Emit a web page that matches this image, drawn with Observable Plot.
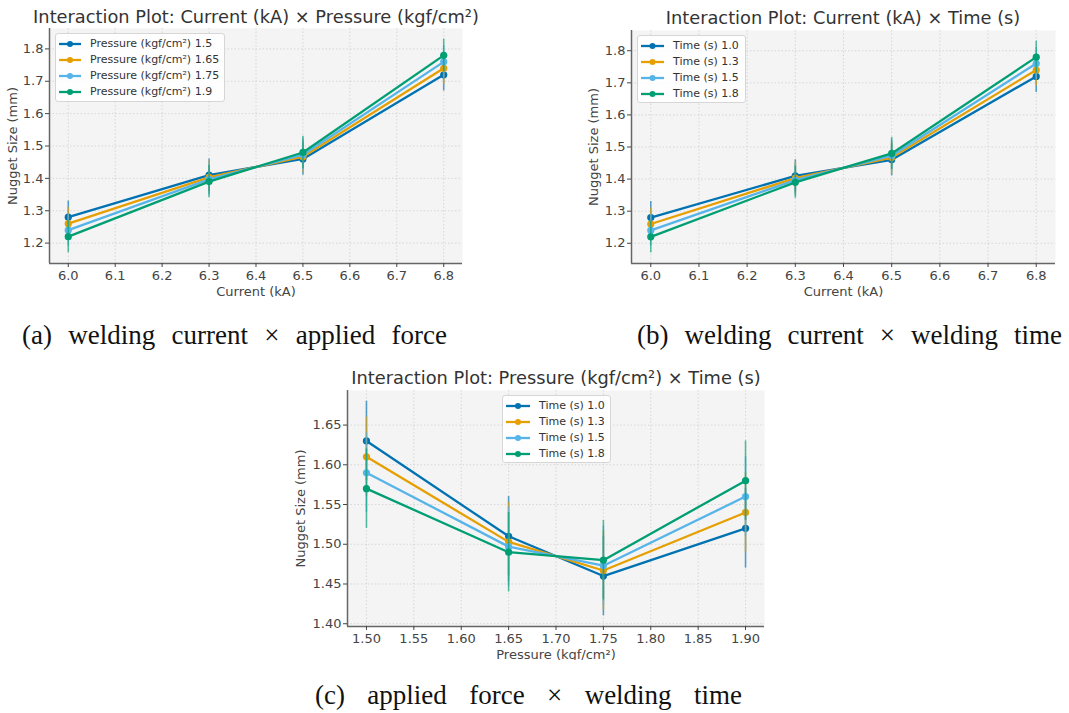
<!DOCTYPE html>
<html><head><meta charset="utf-8">
<script src="https://cdn.jsdelivr.net/npm/d3@7"></script>
<script src="https://cdn.jsdelivr.net/npm/@observablehq/plot@0.6"></script>
<style>
html,body{margin:0;padding:0;background:#fff;}
body{width:1069px;height:713px;position:relative;overflow:hidden;font-family:"DejaVu Sans";}
.panel{position:absolute;}
.title{position:absolute;font-size:17.8px;color:#333;white-space:nowrap;transform:translate(-50%,-50%);}
.caption{position:absolute;font-family:"Liberation Serif";font-size:27px;line-height:30px;color:#111;white-space:nowrap;}
.legend{position:absolute;background:rgba(255,255,255,0.85);border:1px solid #d6d6d6;border-radius:3px;font-size:11px;color:#333;padding:1.5px 4px 1.5px 2px;box-sizing:border-box;}
.legend .row{height:16.1px;line-height:16.1px;display:flex;align-items:center;white-space:nowrap;}
.legend svg{flex:none;margin-right:8px;}
</style></head><body>
<script>
// ---- data ----
const currentLevels = [6.0, 6.3, 6.5, 6.8];
const pressureLevels = [1.5, 1.65, 1.75, 1.9];
const pressureNames = ["1.5", "1.65", "1.75", "1.9"];
const timeNames = ["1.0", "1.3", "1.5", "1.8"];

// (a) nugget size vs current, one series per pressure
const sizeA_p150 = [1.28, 1.41, 1.46, 1.72];
const sizeA_p165 = [1.26, 1.403, 1.467, 1.74];
const sizeA_p175 = [1.24, 1.397, 1.473, 1.76];
const sizeA_p190 = [1.22, 1.39, 1.48, 1.78];

// (b) nugget size vs current, one series per time
const sizeB_t10 = [1.28, 1.41, 1.46, 1.72];
const sizeB_t13 = [1.26, 1.403, 1.467, 1.74];
const sizeB_t15 = [1.24, 1.397, 1.473, 1.76];
const sizeB_t18 = [1.22, 1.39, 1.48, 1.78];

// (c) nugget size vs pressure, one series per time
const sizeC_t10 = [1.63, 1.51, 1.46, 1.52];
const sizeC_t13 = [1.61, 1.503, 1.467, 1.54];
const sizeC_t15 = [1.59, 1.497, 1.473, 1.56];
const sizeC_t18 = [1.57, 1.49, 1.48, 1.58];

const errorHalf = [0.05, 0.05, 0.05, 0.05];

// tick values
const currentTicks = [6.0, 6.1, 6.2, 6.3, 6.4, 6.5, 6.6, 6.7, 6.8];
const sizeTicksAB = [1.2, 1.3, 1.4, 1.5, 1.6, 1.7, 1.8];
const pressureTicks = [1.50, 1.55, 1.60, 1.65, 1.70, 1.75, 1.80, 1.85, 1.90];
const sizeTicksC = [1.40, 1.45, 1.50, 1.55, 1.60, 1.65];

const palette = ["#0072B2", "#E69F00", "#56B4E9", "#009E73"];

function rows(xs, ys) { return xs.map((x, i) => ({x, y: ys[i]})); }

function makePanel(cfg) {
  const marks = [
    Plot.frame({fill: "#f4f4f4", stroke: null}),
    Plot.gridX(cfg.xTicks, {stroke: "#cfcfcf", strokeOpacity: 1, strokeDasharray: "1.5,2", strokeWidth: 0.8}),
    Plot.gridY(cfg.yTicks, {stroke: "#cfcfcf", strokeOpacity: 1, strokeDasharray: "1.5,2", strokeWidth: 0.8}),
  ];
  cfg.series.forEach((ys, si) => {
    const d = rows(cfg.xs, ys);
    marks.push(Plot.ruleX(d, {x: "x", y1: (r) => r.y - errorHalf[si], y2: (r) => r.y + errorHalf[si], stroke: palette[si], strokeWidth: 1.6, strokeOpacity: 0.65}));
    marks.push(Plot.line(d, {x: "x", y: "y", stroke: palette[si], strokeWidth: 2.3}));
    marks.push(Plot.dot(d, {x: "x", y: "y", fill: palette[si], r: 3.6}));
  });
  marks.push(Plot.ruleY([cfg.yDomain[0]], {stroke: "#666", strokeWidth: 1.5}));
  marks.push(Plot.ruleX([cfg.xDomain[0]], {stroke: "#666", strokeWidth: 1.5}));
  marks.push(Plot.axisX({ticks: cfg.xTicks, tickFormat: cfg.xFormat, tickSize: 4, tickPadding: 3, label: cfg.xLabel, labelArrow: "none", labelAnchor: "center", labelOffset: cfg.xLabelOffset}));
  marks.push(Plot.axisY({ticks: cfg.yTicks, tickFormat: cfg.yFormat, tickSize: 4, tickPadding: 2, label: cfg.yLabel, labelArrow: "none", labelAnchor: "center", labelOffset: cfg.yLabelOffset}));
  const svg = Plot.plot({
    width: cfg.width, height: cfg.height,
    marginLeft: cfg.ml, marginRight: cfg.mr, marginTop: cfg.mt, marginBottom: cfg.mb,
    style: {background: "transparent", fontFamily: "DejaVu Sans", fontSize: "13px", color: "#444"},
    x: {domain: cfg.xDomain},
    y: {domain: cfg.yDomain},
    marks
  });
  const div = document.createElement("div");
  div.className = "panel";
  div.style.left = cfg.left + "px";
  div.style.top = cfg.top + "px";
  div.appendChild(svg);
  document.body.appendChild(div);
}

function addTitle(text, x, y) {
  const el = document.createElement("div");
  el.className = "title";
  el.textContent = text;
  el.style.left = x + "px";
  el.style.top = y + "px";
  document.body.appendChild(el);
}

// caption stretched (justified) between x0 and x1, vertically centred on y
function addCaption(text, x0, x1, y) {
  const el = document.createElement("div");
  el.className = "caption";
  el.textContent = text;
  el.style.left = x0 + "px";
  el.style.top = (y - 15) + "px";
  document.body.appendChild(el);
  const w = el.getBoundingClientRect().width;
  const gaps = text.split(" ").length - 1;
  el.style.wordSpacing = ((x1 - x0 - w) / gaps) + "px";
}

function addLegend(prefix, names, left, top, width, height, lineW) {
  const box = document.createElement("div");
  box.className = "legend";
  box.style.left = left + "px";
  box.style.top = top + "px";
  box.style.width = width + "px";
  box.style.height = height + "px";
  names.forEach((n, i) => {
    const row = document.createElement("div");
    row.className = "row";
    row.innerHTML = `<svg width="${lineW}" height="10"><line x1="1" x2="${lineW - 1}" y1="5" y2="5" stroke="${palette[i]}" stroke-width="2.3"/><circle cx="${lineW / 2}" cy="5" r="3" fill="${palette[i]}"/></svg><span>${prefix} ${n}</span>`;
    box.appendChild(row);
  });
  document.body.appendChild(box);
}

const fmt1 = d3.format(".1f"), fmt2 = d3.format(".2f");

makePanel({left: 0, top: 0, width: 470, height: 300, ml: 49, mr: 8, mt: 28, mb: 37,
  xs: currentLevels, series: [sizeA_p150, sizeA_p165, sizeA_p175, sizeA_p190],
  xDomain: [5.96, 6.84], yDomain: [1.137, 1.863], xTicks: currentTicks, yTicks: sizeTicksAB,
  xFormat: fmt1, yFormat: fmt1, xLabel: "Current (kA)", yLabel: "Nugget Size (mm)", xLabelOffset: 32, yLabelOffset: 42});

makePanel({left: 580, top: 0, width: 485, height: 300, ml: 51, mr: 10, mt: 30, mb: 37,
  xs: currentLevels, series: [sizeB_t10, sizeB_t13, sizeB_t15, sizeB_t18],
  xDomain: [5.96, 6.84], yDomain: [1.137, 1.863], xTicks: currentTicks, yTicks: sizeTicksAB,
  xFormat: fmt1, yFormat: fmt1, xLabel: "Current (kA)", yLabel: "Nugget Size (mm)", xLabelOffset: 32, yLabelOffset: 43});

makePanel({left: 290, top: 360, width: 485, height: 300, ml: 57, mr: 11, mt: 30, mb: 34,
  xs: pressureLevels, series: [sizeC_t10, sizeC_t13, sizeC_t15, sizeC_t18],
  xDomain: [1.48, 1.92], yDomain: [1.3965, 1.6935], xTicks: pressureTicks, yTicks: sizeTicksC,
  xFormat: fmt2, yFormat: fmt2, xLabel: "Pressure (kgf/cm²)", yLabel: "Nugget Size (mm)", xLabelOffset: 32, yLabelOffset: 52});

addTitle("Interaction Plot: Current (kA) × Pressure (kgf/cm²)", 256, 16);
addTitle("Interaction Plot: Current (kA) × Time (s)", 843, 17);
addTitle("Interaction Plot: Pressure (kgf/cm²) × Time (s)", 556, 377);

addLegend("Pressure (kgf/cm²)", pressureNames, 55, 33, 170, 69, 24);
addLegend("Time (s)", timeNames, 637, 35, 109, 68, 25);
addLegend("Time (s)", timeNames, 502, 395, 109, 68, 26);

addCaption("(a) welding current × applied force", 22, 447, 335);
addCaption("(b) welding current × welding time", 637, 1062, 335);
addCaption("(c) applied force × welding time", 315, 742, 695);
</script>
</body></html>
